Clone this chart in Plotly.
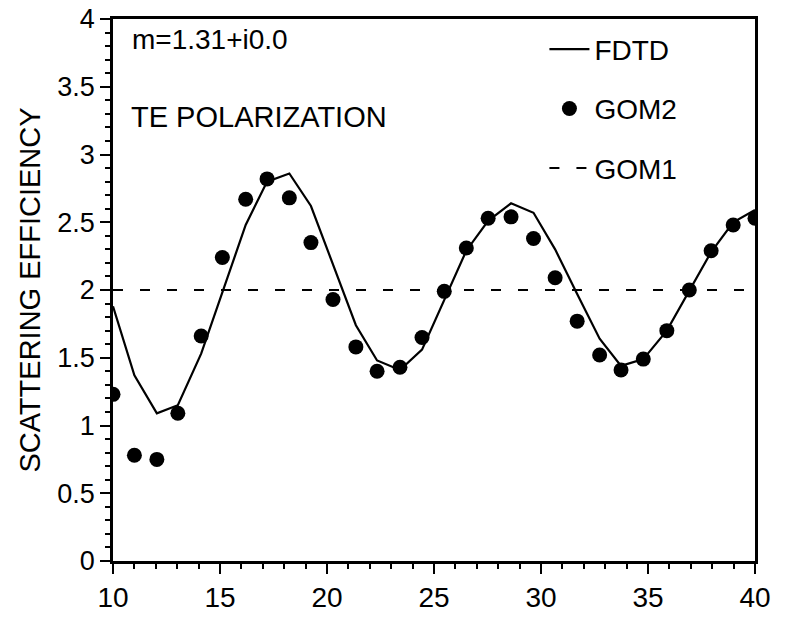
import plotly.graph_objects as go

# size parameter values (x axis)
x_vals = [10.0, 11.0, 12.05, 13.03, 14.12, 15.11, 16.2, 17.2, 18.24, 19.25,
          20.28, 21.35, 22.34, 23.41, 24.44, 25.48, 26.51, 27.53, 28.6, 29.65,
          30.66, 31.69, 32.74, 33.74, 34.78, 35.88, 36.93, 37.95, 38.98, 40.0]

# FDTD (solid line)
fdtd = [1.88, 1.37, 1.09, 1.15, 1.53, 1.98, 2.48, 2.80, 2.86, 2.62,
        2.19, 1.74, 1.48, 1.41, 1.56, 1.93, 2.29, 2.51, 2.64, 2.57,
        2.30, 1.97, 1.64, 1.44, 1.49, 1.70, 1.99, 2.28, 2.50, 2.59]

# GOM2 (filled circles)
gom2 = [1.23, 0.78, 0.75, 1.09, 1.66, 2.24, 2.67, 2.82, 2.68, 2.35,
        1.93, 1.58, 1.40, 1.43, 1.65, 1.99, 2.31, 2.53, 2.54, 2.38,
        2.09, 1.77, 1.52, 1.41, 1.49, 1.70, 2.00, 2.29, 2.48, 2.53]

# GOM1 (dashed line)
gom1_x = [10.0, 40.0]
gom1 = [2.0, 2.0]

x_ticks = [10, 15, 20, 25, 30, 35, 40]
y_ticks = [0, 0.5, 1, 1.5, 2, 2.5, 3, 3.5, 4]
y_tick_text = ["0", "0.5", "1", "1.5", "2", "2.5", "3", "3.5", "4"]

FONT = "Liberation Sans, Arial, Helvetica, sans-serif"

fig = go.Figure()
fig.add_trace(go.Scatter(
    x=x_vals, y=fdtd, mode="lines", name="FDTD",
    line=dict(color="black", width=2.2), legendgroup="a"))
fig.add_trace(go.Scatter(
    x=x_vals, y=gom2, mode="markers", name="GOM2",
    marker=dict(color="black", size=15), legendgroup="b"))
fig.add_trace(go.Scatter(
    x=gom1_x, y=gom1, mode="lines", name="GOM1",
    line=dict(color="black", width=2, dash="10px,17px"), legendgroup="c"))

fig.add_annotation(x=10.8, y=3.85, xref="x", yref="y", text="m=1.31+i0.0",
                   showarrow=False, xanchor="left", yanchor="middle",
                   font=dict(size=28, color="black", family=FONT))
fig.add_annotation(x=10.75, y=3.28, xref="x", yref="y", text="TE POLARIZATION",
                   showarrow=False, xanchor="left", yanchor="middle",
                   font=dict(size=29, color="black", family=FONT))

fig.update_layout(
    width=788, height=623,
    margin=dict(l=113, r=33, t=19, b=62),
    paper_bgcolor="white", plot_bgcolor="white",
    font=dict(family=FONT, color="black", size=27),
    showlegend=True,
    legend=dict(x=0.672, y=0.99, xanchor="left", yanchor="top",
                bgcolor="rgba(0,0,0,0)", borderwidth=0,
                font=dict(size=28, color="black", family=FONT),
                tracegroupgap=20, itemwidth=40),
)
fig.update_xaxes(
    range=[10, 40], tickvals=x_ticks, ticks="outside", ticklen=10, tickwidth=2,
    tickcolor="black", showline=True, linecolor="black", linewidth=2.5,
    mirror=True, showgrid=False, zeroline=False, automargin=False,
    tickfont=dict(size=28, color="black", family=FONT),
    minor=dict(dtick=1, ticks="outside", ticklen=5, tickwidth=1.5, tickcolor="black"),
)
fig.update_yaxes(
    range=[0, 4], tickvals=y_ticks, ticktext=y_tick_text, ticks="outside",
    ticklen=10, tickwidth=2, tickcolor="black", showline=True, linecolor="black",
    linewidth=2.5, mirror=True, showgrid=False, zeroline=False, automargin=False,
    tickfont=dict(size=27, color="black", family=FONT),
    minor=dict(dtick=0.1, ticks="outside", ticklen=5, tickwidth=1.5, tickcolor="black"),
    title=dict(text="SCATTERING EFFICIENCY", standoff=9,
               font=dict(size=29, color="black", family=FONT)),
)

# remove the default 8px page margin so the figure fills the window exactly
fig.write_html("out.html",
               config={"displayModeBar": False},
               post_script="document.body.style.margin='0';")
